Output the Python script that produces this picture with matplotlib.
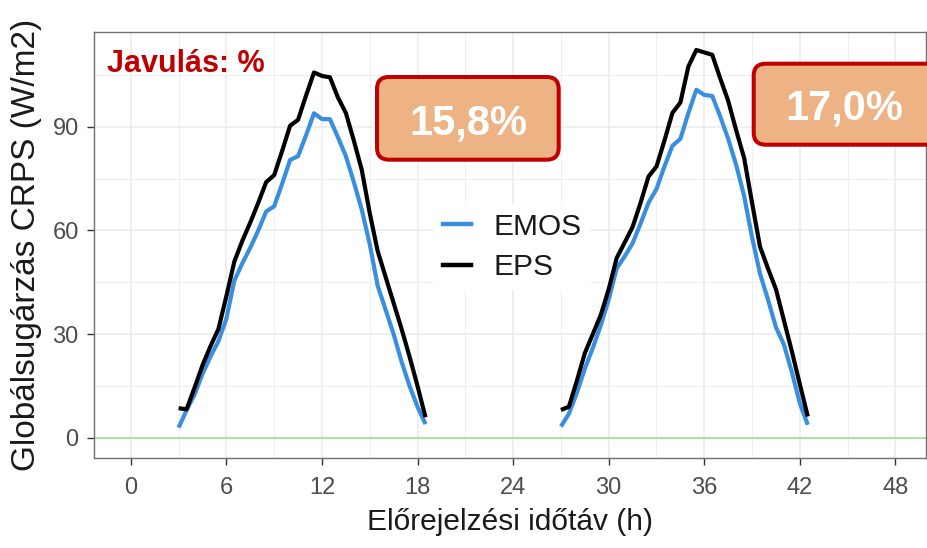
import numpy as np
import matplotlib
matplotlib.use("Agg")
import matplotlib.pyplot as plt
from matplotlib.patches import FancyBboxPatch
from matplotlib.ticker import MultipleLocator

plt.rcParams['font.family'] = ['Liberation Sans', 'DejaVu Sans']

# Forecast lead times (h), half-hourly, for the two daylight periods
hours_day1 = [3.0, 3.5, 4.0, 4.5, 5.0, 5.5, 6.0, 6.5, 7.0, 7.5, 8.0, 8.5, 9.0, 9.5, 10.0, 10.5,
              11.0, 11.5, 12.0, 12.5, 13.0, 13.5, 14.0, 14.5, 15.0, 15.5, 16.0, 16.5, 17.0, 17.5, 18.0, 18.5]
hours_day2 = [27.0, 27.5, 28.0, 28.5, 29.0, 29.5, 30.0, 30.5, 31.0, 31.5, 32.0, 32.5, 33.0, 33.5, 34.0, 34.5,
              35.0, 35.5, 36.0, 36.5, 37.0, 37.5, 38.0, 38.5, 39.0, 39.5, 40.0, 40.5, 41.0, 41.5, 42.0, 42.5]

# CRPS of global radiation (W/m2)
emos_day1 = [3.0, 8.0, 12.5, 18.5, 23.5, 28.0, 34.5, 45.5, 50.5, 55.0, 60.0, 65.5, 67.0, 73.5, 80.4, 81.5,
             87.5, 93.9, 92.2, 92.2, 87.0, 81.5, 74.0, 66.0, 56.0, 44.0, 37.0, 30.0, 22.0, 15.0, 9.0, 4.0]
eps_day1 = [8.6, 8.3, 14.5, 21.0, 26.5, 31.5, 41.0, 51.0, 57.0, 62.3, 68.0, 74.0, 76.0, 83.0, 90.3, 92.0,
            99.0, 105.7, 104.7, 104.3, 98.5, 94.0, 86.0, 77.5, 65.0, 54.0, 46.5, 39.0, 31.5, 23.5, 15.0, 6.0]
emos_day2 = [3.3, 7.0, 13.0, 20.0, 26.0, 32.5, 40.0, 49.0, 52.5, 56.3, 62.0, 68.0, 72.0, 78.5, 84.5, 86.5,
             93.9, 100.7, 99.2, 98.9, 93.0, 86.5, 79.0, 70.0, 58.0, 47.5, 40.0, 32.0, 27.0, 19.0, 10.0, 3.8]
eps_day2 = [8.1, 9.0, 16.5, 24.5, 30.0, 35.5, 43.0, 52.0, 56.5, 61.0, 68.0, 75.6, 78.5, 86.0, 94.0, 97.0,
            107.4, 112.2, 111.5, 110.8, 104.0, 97.5, 89.0, 81.0, 68.0, 55.3, 49.0, 43.0, 34.0, 25.0, 15.5, 6.2]

x_ticks = [0, 6, 12, 18, 24, 30, 36, 42, 48]
y_ticks = [0, 30, 60, 90]
improvements = ["15,8%", "17,0%"]

W, H = 927, 548
fig = plt.figure(figsize=(W / 100, H / 100), dpi=100)
ax = fig.add_axes([94 / W, 1 - 458 / H, (925.7 - 94) / W, (458 - 32) / H])

ax.set_xlim(-2.31, 49.9)
ax.set_ylim(-5.8, 117.4)
ax.set_xticks(x_ticks)
ax.set_yticks(y_ticks)
ax.xaxis.set_minor_locator(MultipleLocator(3))
ax.yaxis.set_minor_locator(MultipleLocator(15))
ax.grid(which='major', color='#EBEBEB', lw=1.1)
ax.grid(which='minor', color='#EFEFEF', lw=0.8)
ax.set_axisbelow(True)
ax.tick_params(which='major', length=5, width=1, color='#333333', labelsize=17,
               labelcolor='#4D4D4D')
ax.tick_params(axis='x', which='major', pad=9)
ax.tick_params(axis='y', which='major', pad=6)
ax.tick_params(which='minor', length=0)
for s in ax.spines.values():
    s.set_color('#707070')
    s.set_linewidth(1.0)

ax.axhline(0, color='#A8E6A0', lw=1.5, zorder=1)

blue = '#3A8EE0'
lw = 3.0
for hrs, emos, eps in [(hours_day1, emos_day1, eps_day1), (hours_day2, emos_day2, eps_day2)]:
    ax.plot(hrs, emos, color=blue, lw=lw, solid_joinstyle='round', solid_capstyle='butt', zorder=3)
    ax.plot(hrs, eps, color='black', lw=lw, solid_joinstyle='round', solid_capstyle='butt', zorder=4)

ax.plot([], [], color=blue, lw=3.2, label='EMOS')
ax.plot([], [], color='black', lw=3.2, label='EPS')
handles, labels = ax.get_legend_handles_labels()
leg = ax.legend(handles[-2:], labels[-2:], loc='center',
                bbox_to_anchor=(512 / W, 1 - 247 / H), bbox_transform=fig.transFigure,
                fontsize=21.5, frameon=True, facecolor='white', edgecolor='none', framealpha=1,
                handlelength=0.95, handletextpad=0.75, labelspacing=0.42, borderpad=0.3,
                fancybox=False)
for t in leg.get_texts():
    t.set_color('#1A1A1A')

ax.set_xlabel('Előrejelzési időtáv (h)', fontsize=21.5, color='#1A1A1A')
ax.xaxis.set_label_coords(0.5, (458 - 508) / 426)
ax.set_ylabel('Globálsugárzás CRPS (W/m2)', fontsize=24, color='#1A1A1A')
ax.yaxis.set_label_coords((42 - 94) / 831.7, 0.5)

# Annotation layer in pixel coordinates
ov = fig.add_axes([0, 0, 1, 1])
ov.set_xlim(0, W)
ov.set_ylim(H, 0)
ov.axis('off')
ov.patch.set_alpha(0)

ov.text(107, 71.7, 'Javulás: %', color='#C00000', fontsize=22, fontweight='bold',
        ha='left', va='baseline')

boxes = [(377, 77, 181.7, 82.7, 468, 134.3), (753.7, 63.7, 185, 81, 844, 119.0)]
for (bx, by, bw, bh, tx, ty), label in zip(boxes, improvements):
    p = FancyBboxPatch((bx, by), bw, bh, boxstyle='round,pad=0,rounding_size=12',
                       facecolor='#EDB384', edgecolor='#C00000', lw=2.9)
    ov.add_patch(p)
    ov.text(tx, ty, label, color='white', fontsize=30, fontweight='bold',
            ha='center', va='baseline')

fig.savefig('out.png', dpi=100)
